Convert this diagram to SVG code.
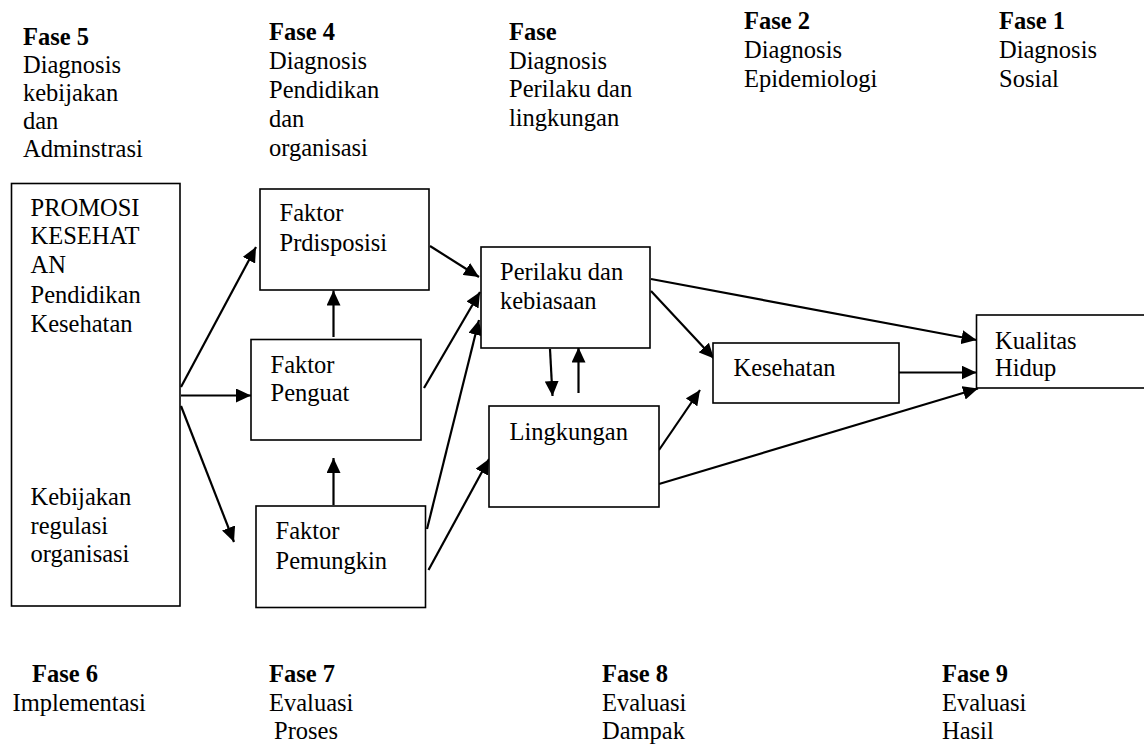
<svg xmlns="http://www.w3.org/2000/svg" width="1144" height="744" viewBox="0 0 1144 744">
<style>
text{font-family:'Liberation Serif',Tinos,'Times New Roman',Times,'DejaVu Serif',serif;font-size:24.5px;fill:#000}
.b{font-weight:bold}
.box{fill:#fff;stroke:#000;stroke-width:1.6}
.c{stroke:#000;stroke-width:2.2;fill:none;marker-end:url(#ah)}
</style>
<defs>
<marker id="ah" markerUnits="userSpaceOnUse" markerWidth="16" markerHeight="14" refX="15" refY="7" orient="auto">
<path d="M0,0 L15,7 L0,14 z" fill="#000"/>
</marker>
</defs>
<rect width="1144" height="744" fill="#fff"/>
<g id="phase-labels" font-family="Liberation Serif, serif">
<text x="23" y="45" class="b">Fase 5</text>
<text x="23" y="73">Diagnosis</text>
<text x="23" y="101">kebijakan</text>
<text x="23" y="129">dan</text>
<text x="23" y="157">Adminstrasi</text>
<text x="269" y="40" class="b">Fase 4</text>
<text x="269" y="68.5">Diagnosis</text>
<text x="269" y="98">Pendidikan</text>
<text x="269" y="127">dan</text>
<text x="269" y="156">organisasi</text>
<text x="509" y="40" class="b">Fase</text>
<text x="509" y="68.5">Diagnosis</text>
<text x="509" y="97">Perilaku dan</text>
<text x="509" y="126">lingkungan</text>
<text x="744" y="29" class="b">Fase 2</text>
<text x="744" y="58">Diagnosis</text>
<text x="744" y="87">Epidemiologi</text>
<text x="999" y="29" class="b">Fase 1</text>
<text x="999" y="58">Diagnosis</text>
<text x="999" y="87">Sosial</text>
<text x="32" y="682" class="b">Fase 6</text>
<text x="12.5" y="711">Implementasi</text>
<text x="269" y="682" class="b">Fase 7</text>
<text x="269" y="711">Evaluasi</text>
<text x="274" y="739">Proses</text>
<text x="602" y="682" class="b">Fase 8</text>
<text x="602" y="711">Evaluasi</text>
<text x="602" y="739">Dampak</text>
<text x="942" y="682" class="b">Fase 9</text>
<text x="942" y="711">Evaluasi</text>
<text x="942" y="739">Hasil</text>
</g>
<g id="connectors">
<line class="c" x1="181" y1="387" x2="256" y2="247"/>
<line class="c" x1="181" y1="395.5" x2="251" y2="395.5"/>
<line class="c" x1="181" y1="406" x2="234" y2="542"/>
<line class="c" x1="333.5" y1="337" x2="333.5" y2="290.5"/>
<line class="c" x1="333.5" y1="505" x2="333.5" y2="458"/>
<line class="c" x1="430" y1="246" x2="479" y2="277"/>
<line class="c" x1="424" y1="388" x2="480" y2="292"/>
<line class="c" x1="427" y1="529" x2="479" y2="320"/>
<line class="c" x1="428.5" y1="570" x2="489" y2="459"/>
<line class="c" x1="550" y1="349" x2="552.5" y2="396"/>
<line class="c" x1="578.5" y1="393" x2="578.5" y2="347.5"/>
<line class="c" x1="651" y1="291" x2="714" y2="358.5"/>
<line class="c" x1="651" y1="279" x2="976.5" y2="340"/>
<line class="c" x1="659" y1="450" x2="700" y2="390"/>
<line class="c" x1="659" y1="484" x2="978" y2="388.5"/>
<line class="c" x1="899" y1="372.5" x2="976.5" y2="372.5"/>
</g>
<g id="promosi">
<rect class="box" x="11.5" y="183.5" width="168.5" height="422.5"/>
<text x="30.5" y="215.5">PROMOSI</text>
<text x="30.5" y="244">KESEHAT</text>
<text x="30.5" y="272.5">AN</text>
<text x="30.5" y="302.5">Pendidikan</text>
<text x="30.5" y="331.5">Kesehatan</text>
<text x="30.5" y="505">Kebijakan</text>
<text x="30.5" y="533.5">regulasi</text>
<text x="30.5" y="562">organisasi</text>
</g>
<g id="predisposisi">
<rect class="box" x="260" y="189" width="169" height="101"/>
<text x="279.5" y="221">Faktor</text>
<text x="279.5" y="250.5">Prdisposisi</text>
</g>
<g id="penguat">
<rect class="box" x="251" y="339.5" width="170" height="100.5"/>
<text x="270.5" y="372.5">Faktor</text>
<text x="270.5" y="401">Penguat</text>
</g>
<g id="pemungkin">
<rect class="box" x="256" y="506" width="169.5" height="101.5"/>
<text x="275.5" y="538.5">Faktor</text>
<text x="275.5" y="568.5">Pemungkin</text>
</g>
<g id="perilaku">
<rect class="box" x="481" y="247" width="169" height="101"/>
<text x="500" y="279.5">Perilaku dan</text>
<text x="500" y="309">kebiasaan</text>
</g>
<g id="lingkungan">
<rect class="box" x="489" y="406" width="170" height="101"/>
<text x="509.5" y="440">Lingkungan</text>
</g>
<g id="kesehatan">
<rect class="box" x="713" y="343" width="186" height="60"/>
<text x="733.5" y="376">Kesehatan</text>
</g>
<g id="kualitas">
<rect class="box" x="976.5" y="315" width="180" height="73"/>
<text x="995" y="348.5">Kualitas</text>
<text x="995" y="376">Hidup</text>
</g>
</svg>
